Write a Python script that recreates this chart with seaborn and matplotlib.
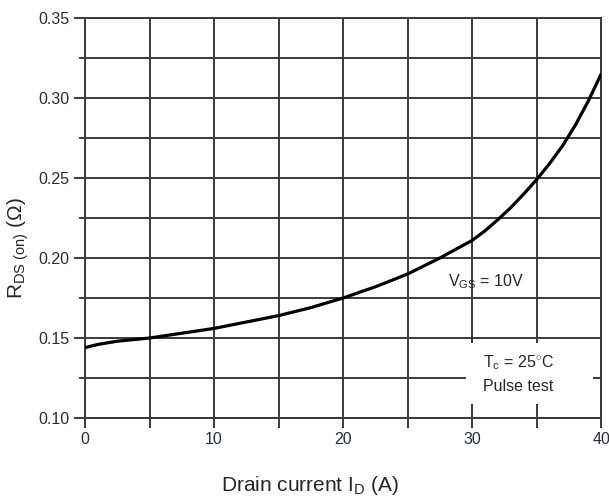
import numpy as np
import pandas as pd
import matplotlib
matplotlib.use("Agg")
import matplotlib.pyplot as plt
import seaborn as sns
from matplotlib.patches import Rectangle

# Values
drain_current = [0, 1, 2.5, 5, 7.5, 10, 12.5, 15, 17.5, 20, 22.5, 25, 27.5, 30,
                 31, 32, 33, 34, 35, 36, 36.5, 37, 37.5, 38, 38.5, 39, 39.5, 40]
rds_on = [0.144, 0.146, 0.148, 0.150, 0.153, 0.156, 0.160, 0.164, 0.169, 0.175,
          0.182, 0.190, 0.200, 0.211, 0.217, 0.224, 0.2315, 0.240, 0.249, 0.259,
          0.2645, 0.270, 0.2765, 0.283, 0.2905, 0.298, 0.3065, 0.315]
x_ticks = [0, 10, 20, 30, 40]
y_ticks = [0.10, 0.15, 0.20, 0.25, 0.30, 0.35]

df = pd.DataFrame({"id": drain_current, "rds": rds_on})

sns.set_style("white")
plt.rcParams["font.family"] = ["Liberation Sans", "DejaVu Sans"]
plt.rcParams["mathtext.fontset"] = "custom"
plt.rcParams["mathtext.rm"] = "Liberation Sans"
plt.rcParams["mathtext.it"] = "Liberation Sans:italic"

fig = plt.figure(figsize=(6.09, 5.03), dpi=100)
ax = fig.add_axes([0.1396, 0.169, 0.8474, 0.795])

grid_col = "#3a3a3a"
for v in np.arange(0, 40.01, 5):
    ax.axvline(v, color=grid_col, lw=1.4, zorder=1)
for v in np.arange(0.10, 0.3501, 0.025):
    ax.axhline(v, color=grid_col, lw=1.4, zorder=1)

# white box behind the test-condition note
ax.add_patch(Rectangle((29.5, 0.1088), 9.9, 0.0382, facecolor="white",
                       edgecolor="none", zorder=2))

sns.lineplot(data=df, x="id", y="rds", color="black", lw=2.3, ax=ax, zorder=3)

ax.set_xlim(0, 40)
ax.set_ylim(0.10, 0.35)
ax.set_xticks(np.arange(0, 40.01, 5))
ax.set_xticklabels([str(v) if v in x_ticks else "" for v in range(0, 41, 5)])
ax.set_yticks(y_ticks)
ax.set_yticklabels([f"{v:.2f}" for v in y_ticks])
ax.set_yticks(np.arange(0.125, 0.35, 0.05), minor=True)
ax.tick_params(axis="x", which="major", length=7, width=1.4, color=grid_col,
               labelsize=11.5, labelcolor="#2a2a3a", pad=3)
ax.tick_params(axis="y", which="major", length=8, width=1.4, color=grid_col,
               labelsize=11.5, labelcolor="#2a2a3a", pad=3)
ax.tick_params(axis="y", which="minor", length=4, width=1.4, color=grid_col, left=True)
ax.tick_params(bottom=True, left=True)
for s in ax.spines.values():
    s.set_color(grid_col)
    s.set_linewidth(1.4)

ax.set_xlabel(r"Drain current I$_{\rm D}$ (A)", fontsize=15)
ax.xaxis.set_label_coords(0.436, -0.14)
ax.set_ylabel(r"R$_{\rm DS\ (on)}$ (Ω)", fontsize=15)
ax.yaxis.set_label_coords(-0.104, 0.425)

ax.text(31.1, 0.1855, r"V$_{\rm GS}$ = 10V", fontsize=11.5, ha="center",
        va="center", zorder=4)
ax.text(33.6, 0.1345, r"T$_{\rm c}$ = 25$^{\circ}$C", fontsize=11.5,
        ha="center", va="center", zorder=4)
ax.text(33.6, 0.1195, "Pulse test", fontsize=11.5, ha="center", va="center",
        zorder=4)

fig.savefig("out.png", dpi=100)
